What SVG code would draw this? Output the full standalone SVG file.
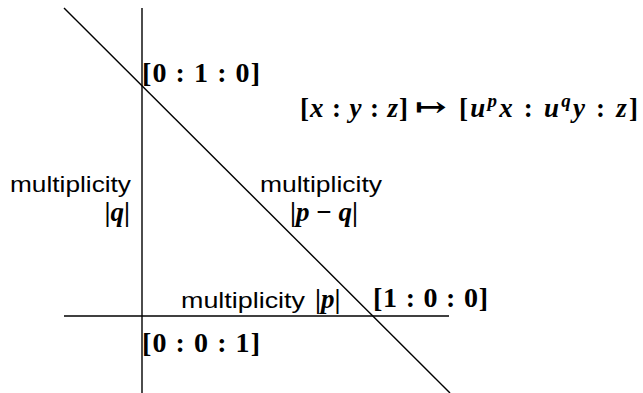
<svg xmlns="http://www.w3.org/2000/svg" width="643" height="393" viewBox="0 0 643 393">
<style>
.ln{stroke:#000;stroke-width:1.4;fill:none}
.pt{font-family:"Liberation Serif","DejaVu Serif",serif;font-weight:bold;font-size:28px;fill:#000}
.mt{font-family:"Liberation Serif","DejaVu Serif",serif;font-weight:bold;font-size:27px;fill:#000}
.it{font-style:italic}
.sans{font-family:"Liberation Sans",Arial,sans-serif;font-size:22px;fill:#000}
</style>
<rect width="643" height="393" fill="#fff"/>
<g id="connectors">
<line class="ln" x1="142" y1="8" x2="142" y2="393"/>
<line class="ln" x1="64" y1="316" x2="449" y2="316"/>
<line class="ln" x1="64" y1="8" x2="450" y2="393"/>
</g>
<g id="p010"><text class="pt" x="142" y="82" textLength="118" lengthAdjust="spacing">[0 : 1 : 0]</text></g>
<g id="p100"><text class="pt" x="373" y="307" textLength="115" lengthAdjust="spacing">[1 : 0 : 0]</text></g>
<g id="p001"><text class="pt" x="142" y="352" textLength="118" lengthAdjust="spacing">[0 : 0 : 1]</text></g>
<g id="map">
<text class="mt" x="300" y="117" textLength="108" lengthAdjust="spacing">[<tspan class="it">x</tspan> : <tspan class="it">y</tspan> : <tspan class="it">z</tspan>]</text>
<text class="mt" x="415" y="116" textLength="32" lengthAdjust="spacingAndGlyphs">↦</text>
<text class="mt" x="459" y="117" textLength="179" lengthAdjust="spacing">[<tspan class="it">u</tspan><tspan class="it" font-size="19" dy="-10">p</tspan><tspan class="it" dy="10">x</tspan> : <tspan class="it">u</tspan><tspan class="it" font-size="19" dy="-10">q</tspan><tspan class="it" dy="10">y</tspan> : <tspan class="it">z</tspan>]</text>
</g>
<g id="mult-q">
<text class="sans" x="131" y="192" text-anchor="end" textLength="121" lengthAdjust="spacingAndGlyphs">multiplicity</text>
<text class="mt" x="130" y="221" text-anchor="end">|<tspan class="it">q</tspan>|</text>
</g>
<g id="mult-pq">
<text class="sans" x="321" y="192" text-anchor="middle" textLength="122" lengthAdjust="spacingAndGlyphs">multiplicity</text>
<text class="mt" x="324" y="221" text-anchor="middle">|<tspan class="it">p</tspan> − <tspan class="it">q</tspan>|</text>
</g>
<g id="mult-p">
<text class="sans" x="181" y="308" textLength="124" lengthAdjust="spacingAndGlyphs">multiplicity</text>
<text class="mt" x="315" y="308">|<tspan class="it">p</tspan>|</text>
</g>
</svg>
